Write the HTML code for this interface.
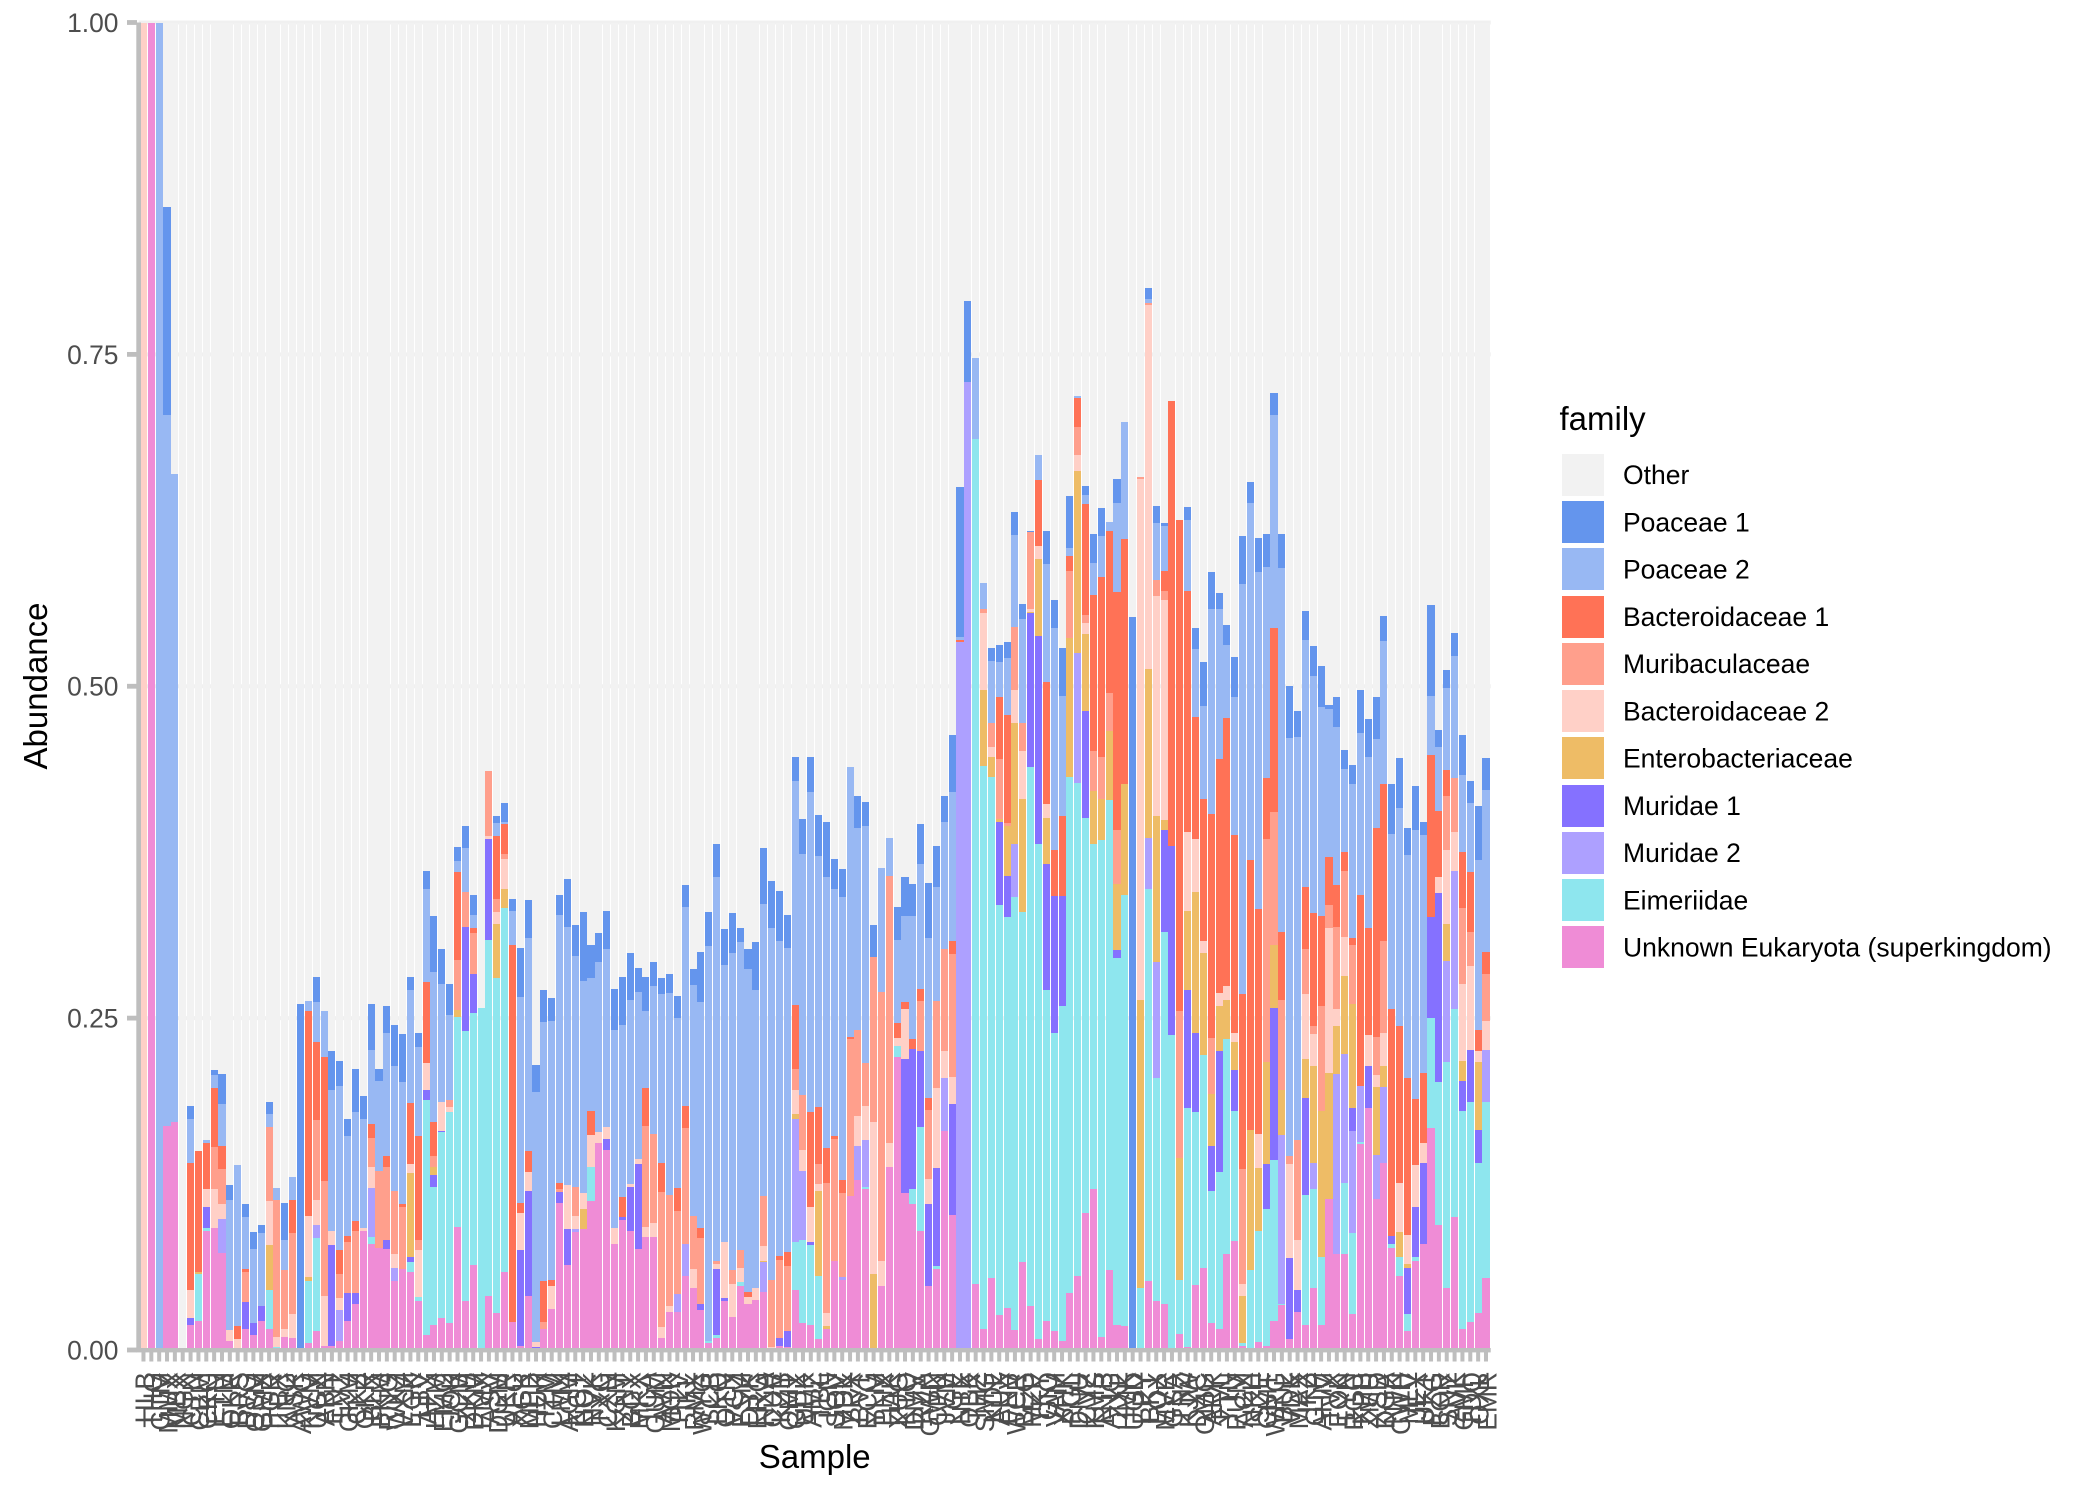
<!DOCTYPE html>
<html lang="en">
<head>
<meta charset="utf-8">
<title>Abundance by sample and family</title>
<style>
html,body{margin:0;padding:0;background:#fff;}
svg{display:block;font-family:"Liberation Sans",sans-serif;}
</style>
</head>
<body>
<svg id="chart" xmlns="http://www.w3.org/2000/svg" width="2100" height="1500" viewBox="0 0 2100 1500">
<rect x="0" y="0" width="2100" height="1500" fill="#ffffff"/>
<g id="grid"></g>
<g id="bars"></g>
<g id="axes"></g>
<g id="xlabels"></g>
<g id="ylabels"></g>
<text x="814.7" y="1468" font-size="33" text-anchor="middle" fill="#000">Sample</text>
<text transform="translate(47,686) rotate(-90)" font-size="33" text-anchor="middle" fill="#000">Abundance</text>
<g id="legend">
<text x="1559.5" y="430" font-size="33" fill="#000">family</text>
</g>
</svg>
<script>
/* Abundance values are in thousandths; one entry per sample. */
const sampleLabels = [
"HLB","THG","GTM","MMX","MBX","NGX","CTN","CBM","CKG","ETN",
"ETM","OKR","BRS","DVG","OSM","GMX","PGR","TBX","KNG","ASK",
"AWG","KVM","UGX","ABN","ENT","LVZ","GKM","CKZ","QKR","BLX",
"FKM","RNG","WKZ","VXM","EGK","LTV","APX","HZM","EMG","JOK",
"GCM","ZKB","DKM","EMX","ASV","DGM","UKR","AFG","XGK","MPB",
"HUK","IZM","CTM","LMX","AGM","KGT","HOZ","NVK","TXG","CXN",
"KGM","ZNT","BGX","MKX","TCA","GUM","AVN","MOK","PTV","JKL",
"RMX","WYG","SCB","LKQ","OTN","VGZ","FSM","DYK","ERG","NXA",
"CUV","KZB","QMT","GHX","UPK","AMZ","TBL","IGN","SOV","MDK",
"ZRX","BVT","ECG","YLM","PNX","HAK","XUG","KTO","DMV","RZA",
"GWN","CPK","JVM","LGE","NTX","OBK","THZ","SMG","KDL","AUX",
"FNV","WCR","BEG","MZP","TKY","GIO","VAM","XHK","PGL","DNU",
"CVZ","KMS","RTB","ANG","ZXL","HMK","UGD","EPY","BKT","LOX",
"MVR","GSA","TNZ","KJW","DXC","OMG","ARK","FVL","YTN","PUM",
"AGX","NKH","SZE","CMT","WRG","BUL","VDK","MAX","IKZ","GTP",
"AHM","TVX","EOK","LYN","RGC","KPB","ZMU","XSD","DGA","NTK",
"CWH","MLV","JEX","UKT","PZG","BOR","SNY","AVK","GMF","TDQ",
"OXL","EMR"
];
const familyNames = ["Other","Poaceae 1","Poaceae 2","Bacteroidaceae 1","Muribaculaceae","Bacteroidaceae 2","Enterobacteriaceae","Muridae 1","Muridae 2","Eimeriidae","Unknown Eukaryota (superkingdom)"];
const familyColors = ["#F2F2F2","#6495ED","#98B8F3","#FF7256","#FF9F8C","#FFD0C7","#EEBC66","#8571FF","#ADA0FF","#8EE6EE","#EF8CD6"];
const yTickValues = [0,250,500,750,1000];
const yTickLabels = ["0.00","0.25","0.50","0.75","1.00"];

const poaceae1 = [
0,0,0,157,0,0,10,0,0,4,
23,11,0,10,13,6,9,0,28,0,
261,0,19,0,29,19,13,33,17,35,
9,20,31,36,10,11,14,42,26,24,
11,17,15,0,0,5,14,9,37,29,
21,24,17,15,36,23,52,25,22,29,
31,36,35,18,26,18,12,14,17,16,
12,38,26,25,27,30,11,15,36,42,
35,38,25,18,26,27,31,42,23,21,
0,24,18,24,0,0,25,29,24,30,
42,31,19,43,113,61,0,0,10,13,
12,17,11,1,0,25,21,36,39,0,
7,22,21,0,18,0,552,0,8,13,
2,0,0,10,16,33,28,12,15,30,
36,16,26,25,17,26,39,19,22,22,
31,3,23,14,15,32,28,32,19,37,
38,20,33,10,68,13,13,17,30,17,
41,24];
const poaceae2 = [
0,0,1000,535,488,0,33,0,2,10,
31,98,121,39,56,55,10,9,23,17,
0,8,30,34,106,124,75,82,82,56,
68,93,94,92,85,67,70,113,89,64,
8,33,10,0,0,10,2,26,155,160,
188,195,195,202,195,174,160,100,128,134,
149,130,139,126,58,111,127,152,128,150,
174,170,297,289,209,239,232,243,224,220,
265,237,229,169,182,241,189,204,186,213,
203,152,179,0,93,29,63,65,93,94,
120,86,96,112,2,0,61,20,47,26,
43,69,79,0,19,89,167,91,6,2,
7,24,31,7,67,88,0,0,3,43,
34,0,0,53,51,70,154,113,55,104,
309,269,254,159,160,274,315,304,186,179,
157,112,119,63,116,122,129,67,108,132,
164,168,203,179,45,48,62,92,58,52,
128,122];
const bacteroidaceae1 = [
0,0,0,0,0,0,96,91,35,44,
18,0,10,2,0,0,0,0,0,25,
0,154,59,94,0,18,5,7,0,10,
0,8,0,2,46,78,61,26,0,0,
66,0,4,0,0,47,22,284,8,16,
0,31,5,5,0,0,0,18,0,0,
0,15,0,0,28,0,22,0,17,17,
0,8,0,0,0,0,0,4,0,0,
0,3,11,48,0,71,43,26,2,10,
2,0,0,0,0,0,11,5,7,9,
9,0,0,10,2,0,0,0,0,47,
81,0,0,0,49,92,35,60,11,22,
83,118,135,122,179,185,0,0,0,0,
15,335,370,182,92,107,169,176,202,149,
132,203,169,46,139,51,0,0,47,85,
68,36,31,14,5,144,81,157,118,171,
118,118,50,53,122,50,20,0,42,45,
16,17];
const muribaculaceae = [
0,0,0,0,0,0,0,0,0,32,
26,0,0,23,0,0,56,103,44,61,
0,0,60,86,0,18,38,47,0,22,
58,55,48,47,0,8,0,8,0,5,
38,26,31,0,49,10,4,0,0,0,
0,5,0,2,0,22,0,0,0,0,
0,0,0,0,76,67,102,84,63,87,
40,49,0,2,0,10,13,0,0,38,
51,59,49,16,41,0,15,98,92,63,
118,65,32,124,203,201,0,0,0,38,
52,66,77,92,0,0,0,3,18,45,
2,48,21,58,0,0,0,0,51,21,
6,30,32,29,41,0,0,2,2,12,
7,0,110,0,0,0,42,0,0,0,
86,0,0,168,100,68,6,75,34,6,
79,17,62,50,44,0,0,29,69,0,
0,0,0,0,0,0,40,41,57,26,
0,35];
const bacteroidaceae2 = [
1000,0,0,0,0,0,21,0,13,29,
11,8,8,0,0,0,33,8,6,18,
0,46,19,38,11,9,0,0,2,16,
0,0,10,0,7,35,20,0,22,4,
0,0,0,0,2,9,23,0,28,14,
4,0,17,0,33,10,12,24,8,9,
12,0,2,4,8,11,8,4,0,0,
14,0,0,4,42,25,11,5,9,11,
2,0,0,18,16,27,5,10,0,0,
0,22,26,115,19,18,6,38,0,0,
19,60,20,21,0,0,0,58,7,0,
0,25,36,2,10,10,0,0,0,12,
9,0,0,0,0,0,0,392,274,166,
166,0,0,59,40,9,0,10,10,7,
9,0,26,0,0,0,71,38,49,24,
0,109,13,29,0,0,23,9,25,0,
37,22,31,15,0,12,56,29,58,63,
8,22];
const enterobacteriaceae = [
0,0,0,0,0,0,0,2,0,0,
0,0,0,0,0,0,34,0,0,0,
0,3,0,0,0,0,0,0,0,0,
0,0,0,0,63,0,0,6,0,0,
5,0,0,0,0,41,14,0,0,0,
0,0,0,0,0,0,15,0,0,0,
0,0,0,0,0,0,0,0,0,0,
0,0,0,0,0,0,0,0,0,1,
0,0,0,4,0,0,64,2,0,0,
0,0,0,57,0,0,0,0,0,0,
0,0,0,0,0,0,0,57,15,2,
38,91,85,1,58,35,0,0,104,137,
58,40,31,52,50,83,0,217,127,110,
7,0,92,60,106,77,39,34,30,21,
36,106,47,77,47,34,0,0,29,73,
110,95,36,59,79,0,0,51,16,0,
19,3,0,0,0,0,28,0,15,0,
51,0];
const muridae1 = [
0,0,0,0,0,0,5,0,16,0,
0,0,0,20,9,11,0,0,0,0,
0,0,0,0,76,0,21,8,0,0,
0,7,0,0,4,0,8,9,1,0,
0,79,29,0,76,0,0,0,72,79,
2,0,0,8,27,0,0,0,0,8,
0,2,33,64,0,0,0,0,0,0,
0,5,0,50,2,0,0,0,0,0,
0,6,12,0,0,2,0,0,0,0,
0,0,0,0,0,0,0,101,106,57,
62,74,0,83,0,0,0,0,0,63,
31,0,0,116,157,95,103,83,0,0,
80,0,0,0,6,0,0,0,0,0,
77,143,0,89,60,0,34,91,0,31,
0,0,0,34,115,0,61,16,73,0,
0,0,0,0,17,0,32,0,0,6,
0,35,38,61,76,142,0,0,23,39,
25,0];
const muridae2 = [
0,0,0,0,0,0,0,0,0,0,
26,0,0,0,0,0,0,0,0,0,
0,0,10,0,0,23,0,0,0,37,
0,0,10,0,0,0,0,0,0,0,
0,0,0,0,0,0,0,0,0,0,
0,0,0,0,0,2,0,0,0,0,
0,0,0,0,0,0,0,0,13,24,
0,0,0,0,0,0,0,0,0,22,
0,0,0,93,52,0,0,0,0,2,
0,26,35,0,0,0,0,0,0,0,
0,0,40,0,533,729,0,0,0,0,
0,40,0,0,0,0,0,0,0,98,
0,0,0,0,0,0,0,0,39,87,
0,0,0,0,0,0,0,0,0,0,
0,0,0,0,0,127,0,0,0,20,
0,0,136,97,77,42,0,33,57,0,
0,0,0,0,0,0,76,104,0,0,
0,39];
const eimeriidae = [
0,0,0,0,0,0,0,35,2,0,
0,0,0,0,0,0,29,2,0,0,
0,47,70,0,0,0,0,0,0,5,
0,0,0,0,7,3,177,104,140,159,
158,203,190,258,268,252,274,0,0,0,
0,0,0,0,0,0,0,26,0,0,
0,0,0,0,0,0,0,0,0,0,
0,0,2,2,0,0,3,0,0,0,
0,0,0,36,63,60,48,0,0,0,
0,0,2,0,0,0,8,0,11,78,
0,2,0,0,0,0,636,424,378,309,
294,326,264,406,373,249,225,252,389,371,
298,260,374,354,276,325,0,46,295,168,
280,237,41,180,130,160,100,118,162,98,
2,59,84,103,121,1,0,0,98,74,
51,0,0,54,61,2,0,0,0,3,
14,13,3,0,83,108,170,157,164,166,
113,133];
const unknownEukaryota = [
0,1000,0,169,172,0,19,22,90,92,
73,7,0,16,11,22,16,0,10,9,
0,5,14,3,3,7,22,35,90,80,
77,76,52,61,59,37,11,19,24,20,
93,37,64,0,41,28,59,21,3,41,
0,16,31,111,64,89,91,112,156,151,
80,98,90,76,85,85,9,29,29,56,
47,30,5,9,37,25,48,35,38,44,
0,3,2,45,20,19,8,16,67,53,
116,128,121,0,48,138,221,118,110,90,
48,61,165,102,0,0,50,16,54,26,
32,15,66,33,8,22,14,7,43,56,
103,121,10,60,19,18,0,1,52,37,
35,0,12,2,49,62,20,16,72,82,
3,1,6,3,22,34,8,29,19,47,
19,114,72,72,27,155,182,114,141,77,
56,14,67,80,167,94,47,100,16,21,
28,54];

/* Stacked from the baseline upward; Other fills the remainder up to 1.00. */
const stackOrder = [unknownEukaryota,eimeriidae,muridae2,muridae1,enterobacteriaceae,bacteroidaceae2,muribaculaceae,bacteroidaceae1,poaceae2,poaceae1];
const stackColorIndex = [10,9,8,7,6,5,4,3,2,1];

const NS = "http://www.w3.org/2000/svg";
const panelLeft = 138.76, panelRight = 1490.7, unit = (panelRight - panelLeft) / (sampleLabels.length + 0.2);
function xCenter(i){ return panelLeft + (0.6 + i) * unit; }
function yScale(v){ return 1350 - 1327.5 * (v / 1000); }
function make(tag, attrs, parent){
  const el = document.createElementNS(NS, tag);
  for (const k in attrs) el.setAttribute(k, attrs[k]);
  parent.appendChild(el);
  return el;
}
const gridG = document.getElementById("grid");
const barsG = document.getElementById("bars");
const axesG = document.getElementById("axes");
const xlabG = document.getElementById("xlabels");
const ylabG = document.getElementById("ylabels");
const legendG = document.getElementById("legend");

yTickValues.forEach(function(v){
  const line = make("rect", {x:panelLeft, y:yScale(v)-2, width:panelRight-panelLeft, height:4, fill:"#F0F0F0"}, gridG);
  
  
});

function drawSegment(i, from, to, color){
  const left = Math.round(xCenter(i) - 0.45 * unit);
  const right = Math.round(xCenter(i) + 0.45 * unit);
  const top = Math.round(yScale(to));
  const bottom = Math.round(yScale(from));
  if (bottom <= top) return;
  const seg = make("rect", {x:left, y:top, width:right-left, height:bottom-top, fill:color}, barsG);
  
  
}
sampleLabels.forEach(function(label, i){
  let base = 0;
  stackOrder.forEach(function(series, s){
    const v = series[i];
    if (v > 0) {
      drawSegment(i, base, base + v, familyColors[stackColorIndex[s]]);
      base += v;
    }
  });
  if (base < 1000) drawSegment(i, base, 1000, familyColors[0]);
});

const yLine = make("rect", {x:136.3, y:yScale(1000), width:4.7, height:yScale(0)+2-yScale(1000), fill:"#BEBEBE"}, axesG);


const xLine = make("rect", {x:136.3, y:yScale(0)-2, width:panelRight-136.3, height:4.4, fill:"#BEBEBE"}, axesG);



yTickValues.forEach(function(v, k){
  const tick = make("rect", {x:127, y:yScale(v)-2.4, width:10, height:4.8, fill:"#BEBEBE"}, axesG);
  
  
  const t = make("text", {x:118.5, y:yScale(v)+9.4, "font-size":26.4, "text-anchor":"end", fill:"#4D4D4D"}, ylabG);
  
  
  t.textContent = yTickLabels[k];
});

sampleLabels.forEach(function(label, i){
  const c = xCenter(i);
  const tick = make("rect", {x:c-2, y:1352, width:4, height:9.5, fill:"#BEBEBE"}, axesG);
  
  
  const t = make("text", {transform:"translate(" + (c + 10.5) + ",1372) rotate(-90)", "font-size":26.4, "text-anchor":"end", fill:"#4D4D4D"}, xlabG);
  
  
  t.textContent = label;
});

familyNames.forEach(function(name, k){
  const cy = 474.6 + 47.25 * k;
  const swatch = make("rect", {x:1562, y:Math.round(cy-20.8), width:42, height:42, fill:familyColors[k]}, legendG);
  
  
  const t = make("text", {x:1623, y:cy+9.6, "font-size":26.5, fill:"#000"}, legendG);
  
  
  t.textContent = name;
});
</script>
</body>
</html>
